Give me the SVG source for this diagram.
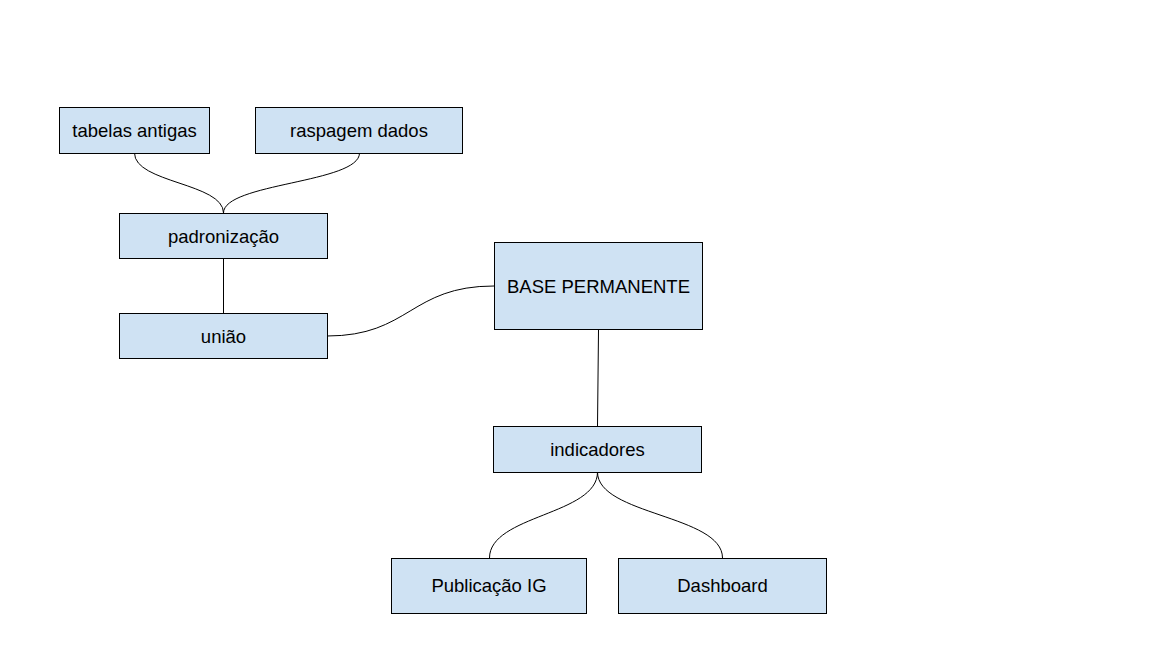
<svg xmlns="http://www.w3.org/2000/svg" width="1168" height="654" viewBox="0 0 1168 654">
<style>
.n rect{fill:#cfe2f3;stroke:#000;stroke-width:1}
.n text{font-family:"Liberation Sans",Arial,sans-serif;font-size:18.5px;fill:#000;text-anchor:middle}
.c path{fill:none;stroke:#000;stroke-width:1}
</style>
<rect width="1168" height="654" fill="#fff"/>
<g class="c" id="connectors">
<path d="M134.5 153 C134.5 183 223.5 183 223.5 213"/>
<path d="M359.5 153 C359.5 183 223.5 183 223.5 213"/>
<path d="M223.5 258 L223.5 313"/>
<path d="M327 336 C410 336 410 286 494 286"/>
<path d="M598.5 330 L597.5 426"/>
<path d="M597.5 472 C597.5 515 489.5 515 489.5 558"/>
<path d="M597.5 472 C597.5 515 722.5 515 722.5 558"/>
</g>
<g class="n" id="tabelas-antigas"><rect x="59.5" y="107.5" width="150" height="46"/><text x="134.5" y="137">tabelas antigas</text></g>
<g class="n" id="raspagem-dados"><rect x="255.5" y="107.5" width="207" height="46"/><text x="359" y="137">raspagem dados</text></g>
<g class="n" id="padronizacao"><rect x="119.5" y="213.5" width="208" height="45"/><text x="223.5" y="243">padronização</text></g>
<g class="n" id="uniao"><rect x="119.5" y="313.5" width="208" height="45"/><text x="223.5" y="343">união</text></g>
<g class="n" id="base-permanente"><rect x="494.5" y="242.5" width="208" height="87"/><text x="598.5" y="293">BASE PERMANENTE</text></g>
<g class="n" id="indicadores"><rect x="493.5" y="426.5" width="208" height="46"/><text x="597.5" y="456">indicadores</text></g>
<g class="n" id="publicacao-ig"><rect x="391.5" y="558.5" width="195" height="55"/><text x="489" y="592">Publicação IG</text></g>
<g class="n" id="dashboard"><rect x="618.5" y="558.5" width="208" height="55"/><text x="722.5" y="592">Dashboard</text></g>
</svg>
